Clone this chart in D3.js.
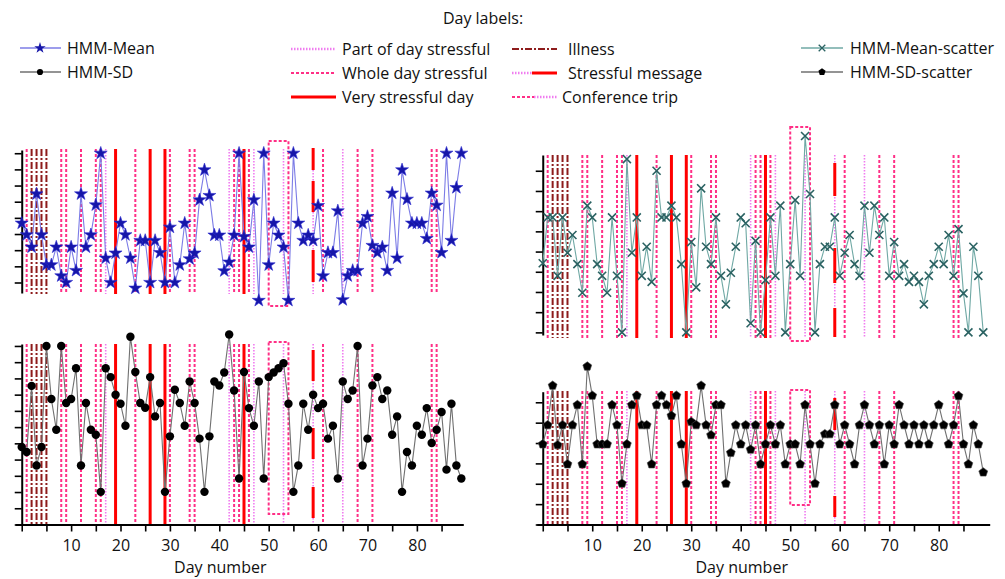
<!DOCTYPE html>
<meta charset="utf-8">
<style>
  body { margin: 0; background: #fff; }
  text { font-family: "Open Sans", "Noto Sans", sans-serif; fill: #111; }
  .axis path, .axis line { stroke: #000; }
  .axis text { font-size: 16px; font-family: "Open Sans", "Noto Sans", sans-serif; fill: #111; }
</style>
<body>
<script src="https://cdn.jsdelivr.net/npm/d3@7"></script>
<script>

// HMM values per day (day 0 .. 89) in tick units
var meanVals = [3.67,2.95,2.19,5.48,2.95,1.09,1.09,2.19,0.41,0,
  2.19,0.74,5.48,2.19,2.95,4.8,8,1.51,0,1.82,
  3.67,2.95,1.51,-0.35,2.6,2.6,0,2.6,1.85,0,
  3.42,0,1.09,3.67,1.46,1.82,5.11,6.97,5.38,2.93,
  2.93,0.72,1.26,2.93,8,2.84,2.19,5.11,-1.11,8,
  1.09,3.67,2.93,2.19,-1.11,8,3.67,2.6,2.93,2.6,
  4.76,0.41,1.85,1.85,4.43,-1.07,0.41,0.74,0.74,3.67,
  4.08,2.29,1.85,2.19,0.74,5.53,1.51,6.97,5.15,3.67,
  3.67,3.67,2.72,5.53,4.78,1.85,8,2.6,5.87,8];

var sdVals = [4.78,4.47,8.54,3.64,4.78,11,7.73,5.84,11,7.48,
  7.73,9.63,3.64,7.48,5.84,5.53,2.01,9.63,9.08,7.99,
  7.44,6.08,11.57,9.39,7.48,7.19,9.08,6.66,7.48,2.01,
  5.43,8.3,7.48,6.08,8.81,7.48,5.29,2.01,5.43,8.81,
  8.56,9.36,11.7,8.25,2.83,9.4,7.17,6.08,8.81,2.83,
  9.08,9.36,9.63,9.94,7.44,2.01,3.64,7.44,5.84,7.99,
  7.17,7.44,5.29,6.08,2.83,8.81,7.73,8.25,11,3.64,
  5.29,8.56,9.08,7.73,8.25,5.53,6.66,2.01,4.47,3.64,
  6.08,5.53,7.17,5.02,5.84,6.93,3.38,7.44,3.64,2.83];

var meanScatterVals = [3.42,5.69,5.69,2.8,5.69,3.94,4.82,3.38,1.96,6.27,
  5.69,3.38,2.8,1.96,5.69,2.8,0,8.58,3.94,5.69,
  2.8,4.24,2.5,8,5.69,5.69,6.27,5.69,3.38,0,
  4.47,2.23,7.13,4.24,3.38,5.69,2.8,1.39,2.95,4.24,
  5.69,5.4,0.45,4.53,0,2.59,5.69,2.8,6.27,0,
  3.38,6.55,2.8,9.72,6.85,0,3.38,4.24,4.24,5.69,
  2.8,3.94,4.82,3.38,2.8,6.27,3.94,6.27,4.82,5.69,
  2.8,4.47,2.8,3.38,2.5,2.8,2.5,1.39,2.8,3.38,
  4.24,3.38,4.82,2.8,5.11,1.93,0,4.24,2.8,0];

var sdScatterVals = [3.94,4.88,6.82,3.9,4.88,2.96,4.88,5.87,2.96,7.76,
  6.33,3.94,3.94,3.94,5.87,4.88,2.01,3.94,5.87,6.33,
  4.88,4.88,2.96,5.87,6.33,5.87,5.34,6.33,3.94,2.01,
  5.04,4.88,6.82,4.88,4.39,5.87,5.87,2.01,3.52,4.88,
  3.94,4.88,3.68,4.88,2.96,3.94,4.88,3.94,4.88,2.96,
  3.94,3.94,2.96,5.87,3.94,2.01,3.94,4.44,4.44,5.87,
  3.94,4.88,3.94,2.96,4.88,5.87,4.88,3.94,4.88,2.96,
  4.88,3.94,5.87,4.88,3.94,4.88,3.94,4.88,3.94,4.88,
  5.87,4.88,3.94,4.88,6.31,3.94,2.96,4.88,3.94,2.56];

// day labels
var partDays = [17, 42, 47, 65];
var wholeDays = [1, 8, 9, 12, 15, 16, 23, 30, 34, 35, 43, 44, 46, 61, 68, 71, 83, 84];
var veryDays = [19, 26, 29, 45];
var illnessDays = [2, 3, 4, 5];
var messageDays = [59];
var conferenceSpan = [50, 54];
var conferencePartDays = [53];

var xTicks = [0, 5, 10, 15, 20, 25, 30, 35, 40, 45, 50, 55, 60, 65, 70, 75, 80, 85];
var xLabels = [10, 20, 30, 40, 50, 60, 70, 80];

var colors = {
  mean: "#7c7ce6", meanMark: "#1616a8",
  sd: "#707070", sdMark: "#000",
  ms: "#6fa8a4", msMark: "#2a6262",
  part: "#f07cf0", whole: "#ff2f86", very: "#ff0000", illness: "#8e1c1c"
};

var svg = d3.select("body").append("svg")
    .attr("width", 1005)
    .attr("height", 579);

var gLabels = svg.append("g");
var gData = svg.append("g");

var pentagon = {
  draw: function(ctx, size) {
    var r = Math.sqrt(size / 2.4);
    for (var k = 0; k < 5; k++) {
      var a = -Math.PI / 2 + k * 2 * Math.PI / 5;
      if (k === 0) ctx.moveTo(r * Math.cos(a), r * Math.sin(a));
      else ctx.lineTo(r * Math.cos(a), r * Math.sin(a));
    }
    ctx.closePath();
  }
};
var timesSym = d3.symbolTimes || d3.symbolCross;

var panels = [
  { vals: meanVals, kind: "mean", xr: [15.3, 463.3], xd: [-1.3, 89.4],
    yd: [-0.65, 8.2], yr: [293, 150], yTicks: [0,1,2,3,4,5,6,7,8],
    lineTop: 149, lineBot: 294, boxTop: 141, boxBot: 306,
    msg: [[148,170],[181,212],[250,282]], xAxis: false },
  { vals: sdVals, kind: "sd", xr: [15.3, 463.3], xd: [-1.3, 89.4],
    yd: [0, 11.12], yr: [524.5, 344], yTicks: [0,1,2,3,4,5,6,7,8,9,10,11],
    lineTop: 344, lineBot: 524, boxTop: 342, boxBot: 514,
    msg: [[350,381],[428,459],[487,518]], xAxis: true },
  { vals: meanScatterVals, kind: "ms", xr: [536.8, 989.7], xd: [-1.2, 90.3],
    yd: [-0.13, 8.78], yr: [335, 155], yTicks: [0,1,2,3,4,5,6,7,8],
    lineTop: 155, lineBot: 338, boxTop: 127, boxBot: 341,
    msg: [[163,196],[248,283],[308,337]], xAxis: false },
  { vals: sdScatterVals, kind: "ss", xr: [536.8, 989.7], xd: [-1.2, 90.3],
    yd: [0, 6.52], yr: [524.5, 391.7], yTicks: [0,1,2,3,4,5,6],
    lineTop: 391, lineBot: 524, boxTop: 390, boxBot: 505,
    msg: [[398,430],[496,517]], xAxis: true }
];

function vline(g, x, y0, y1, stroke, width, dash) {
  g.append("line")
    .attr("x1", x).attr("x2", x)
    .attr("y1", y0).attr("y2", y1)
    .attr("stroke", stroke)
    .attr("stroke-width", width)
    .attr("stroke-dasharray", dash);
}

panels.forEach(function(p) {
  var x = d3.scaleLinear().domain(p.xd).range(p.xr);
  var y = d3.scaleLinear().domain(p.yd).range(p.yr);

  // day label lines
  partDays.forEach(function(d) { vline(gLabels, x(d), p.lineTop, p.lineBot, colors.part, 1.6, "1.5,1.5"); });
  wholeDays.forEach(function(d) { vline(gLabels, x(d), p.lineTop, p.lineBot, colors.whole, 2, "3,2"); });
  illnessDays.forEach(function(d) { vline(gLabels, x(d), p.lineTop, p.lineBot, colors.illness, 2, "7,2,2,2"); });
  veryDays.forEach(function(d) { vline(gLabels, x(d), p.lineTop, p.lineBot, colors.very, 3, null); });
  messageDays.forEach(function(d) {
    vline(gLabels, x(d), p.lineTop, p.lineBot, colors.part, 1.6, "1.5,1.5");
    p.msg.forEach(function(s) { vline(gLabels, x(d), s[0], s[1], colors.very, 3, null); });
  });
  conferencePartDays.forEach(function(d) { vline(gLabels, x(d), p.lineTop, p.lineBot, colors.part, 1.6, "1.5,1.5"); });
  gLabels.append("rect")
    .attr("x", x(conferenceSpan[0]))
    .attr("y", p.boxTop)
    .attr("width", x(conferenceSpan[1]) - x(conferenceSpan[0]))
    .attr("height", p.boxBot - p.boxTop)
    .attr("fill", "none")
    .attr("stroke", colors.whole)
    .attr("stroke-width", 2)
    .attr("stroke-dasharray", "3,2");

  // y axis
  var ya = gData.append("g")
    .attr("class", "axis")
    .attr("transform", "translate(" + x(0) + ",0)")
    .call(d3.axisLeft(y).tickValues(p.yTicks).tickSize(7).tickSizeOuter(0).tickFormat(""));
  ya.select(".domain").attr("stroke-width", 2);
  ya.selectAll(".tick line").attr("stroke-width", 1.6);

  // x axis
  if (p.xAxis) {
    var xa = gData.append("g")
      .attr("class", "axis")
      .attr("transform", "translate(0," + y(0) + ")")
      .call(d3.axisBottom(x).tickValues(xTicks).tickSize(7).tickSizeOuter(0).tickPadding(8)
        .tickFormat(function(d) { return xLabels.indexOf(d) >= 0 ? d : ""; }));
    xa.select(".domain").attr("stroke-width", 2);
    xa.selectAll(".tick line").attr("stroke-width", 1.6);
    gData.append("text")
      .attr("x", x(40.2))
      .attr("y", 573)
      .attr("text-anchor", "middle")
      .style("font-size", "16px")
      .text("Day number");
  }

  // data line
  var line = d3.line()
    .x(function(d, i) { return x(i); })
    .y(function(d) { return y(d); });

  var lineColor = p.kind === "mean" ? colors.mean : (p.kind === "ms" ? colors.ms : colors.sd);
  gData.append("path")
    .datum(p.vals)
    .attr("fill", "none")
    .attr("stroke", lineColor)
    .attr("stroke-width", 1.1)
    .attr("d", line);

  var marks = gData.append("g").selectAll("path")
    .data(p.vals)
    .enter().append("path")
    .attr("transform", function(d, i) { return "translate(" + x(i) + "," + y(d) + ")"; });

  if (p.kind === "mean") {
    marks.attr("d", d3.symbol().type(d3.symbolStar).size(52))
      .attr("fill", colors.meanMark).attr("stroke", "#2a2ad0").attr("stroke-width", 0.6);
  } else if (p.kind === "sd") {
    marks.attr("d", d3.symbol().type(d3.symbolCircle).size(56))
      .attr("fill", colors.sdMark);
  } else if (p.kind === "ms") {
    marks.attr("d", d3.symbol().type(timesSym).size(44))
      .attr("fill", "none").attr("stroke", colors.msMark).attr("stroke-width", 1.6);
  } else {
    marks.attr("d", d3.symbol().type(pentagon).size(52))
      .attr("fill", "#000").attr("stroke", "#444").attr("stroke-width", 0.6);
  }
});

// legend
var leg = svg.append("g").style("font-size", "16px");
leg.append("text").attr("x", 483).attr("y", 24).attr("text-anchor", "middle").text("Day labels:");

function legLine(x0, x1, yy, stroke, width, dash) {
  leg.append("line").attr("x1", x0).attr("x2", x1).attr("y1", yy).attr("y2", yy)
    .attr("stroke", stroke).attr("stroke-width", width).attr("stroke-dasharray", dash);
}
function legText(xx, yy, t) {
  leg.append("text").attr("x", xx).attr("y", yy).attr("dy", "0.35em").text(t);
}

// series entries
legLine(20, 61, 48, colors.mean, 1.3, null);
leg.append("path").attr("transform", "translate(40,48)")
  .attr("d", d3.symbol().type(d3.symbolStar).size(40)).attr("fill", colors.meanMark);
legText(67, 48, "HMM-Mean");
legLine(20, 61, 72, colors.sd, 1.3, null);
leg.append("path").attr("transform", "translate(40,72)")
  .attr("d", d3.symbol().type(d3.symbolCircle).size(30)).attr("fill", "#000");
legText(67, 72, "HMM-SD");

legLine(801, 843, 48, colors.ms, 1.3, null);
leg.append("path").attr("transform", "translate(822,48)")
  .attr("d", d3.symbol().type(timesSym).size(30)).attr("fill", "none").attr("stroke", colors.msMark).attr("stroke-width", 1.3);
legText(850, 48, "HMM-Mean-scatter");
legLine(801, 843, 72, colors.sd, 1.3, null);
leg.append("path").attr("transform", "translate(822,72)")
  .attr("d", d3.symbol().type(pentagon).size(34)).attr("fill", "#000");
legText(850, 72, "HMM-SD-scatter");

// day label entries
legLine(291, 336, 49, colors.part, 2.5, "1.5,1.5");
legText(342, 49, "Part of day stressful");
legLine(291, 336, 73, colors.whole, 2, "3,2");
legText(342, 73, "Whole day stressful");
legLine(291, 336, 97, colors.very, 3, null);
legText(342, 97, "Very stressful day");

legLine(512, 557, 49, colors.illness, 2, "7,2,2,2");
legText(568, 49, "Illness");
legLine(512, 532, 73, colors.part, 2.5, "1.5,1.5");
legLine(532, 557, 73, colors.very, 3, null);
legText(568, 73, "Stressful message");
legLine(512, 534, 97, colors.whole, 2, "3,2");
legLine(534, 557, 97, colors.part, 2.5, "1.5,1.5");
legText(562, 97, "Conference trip");

</script>
</body>
